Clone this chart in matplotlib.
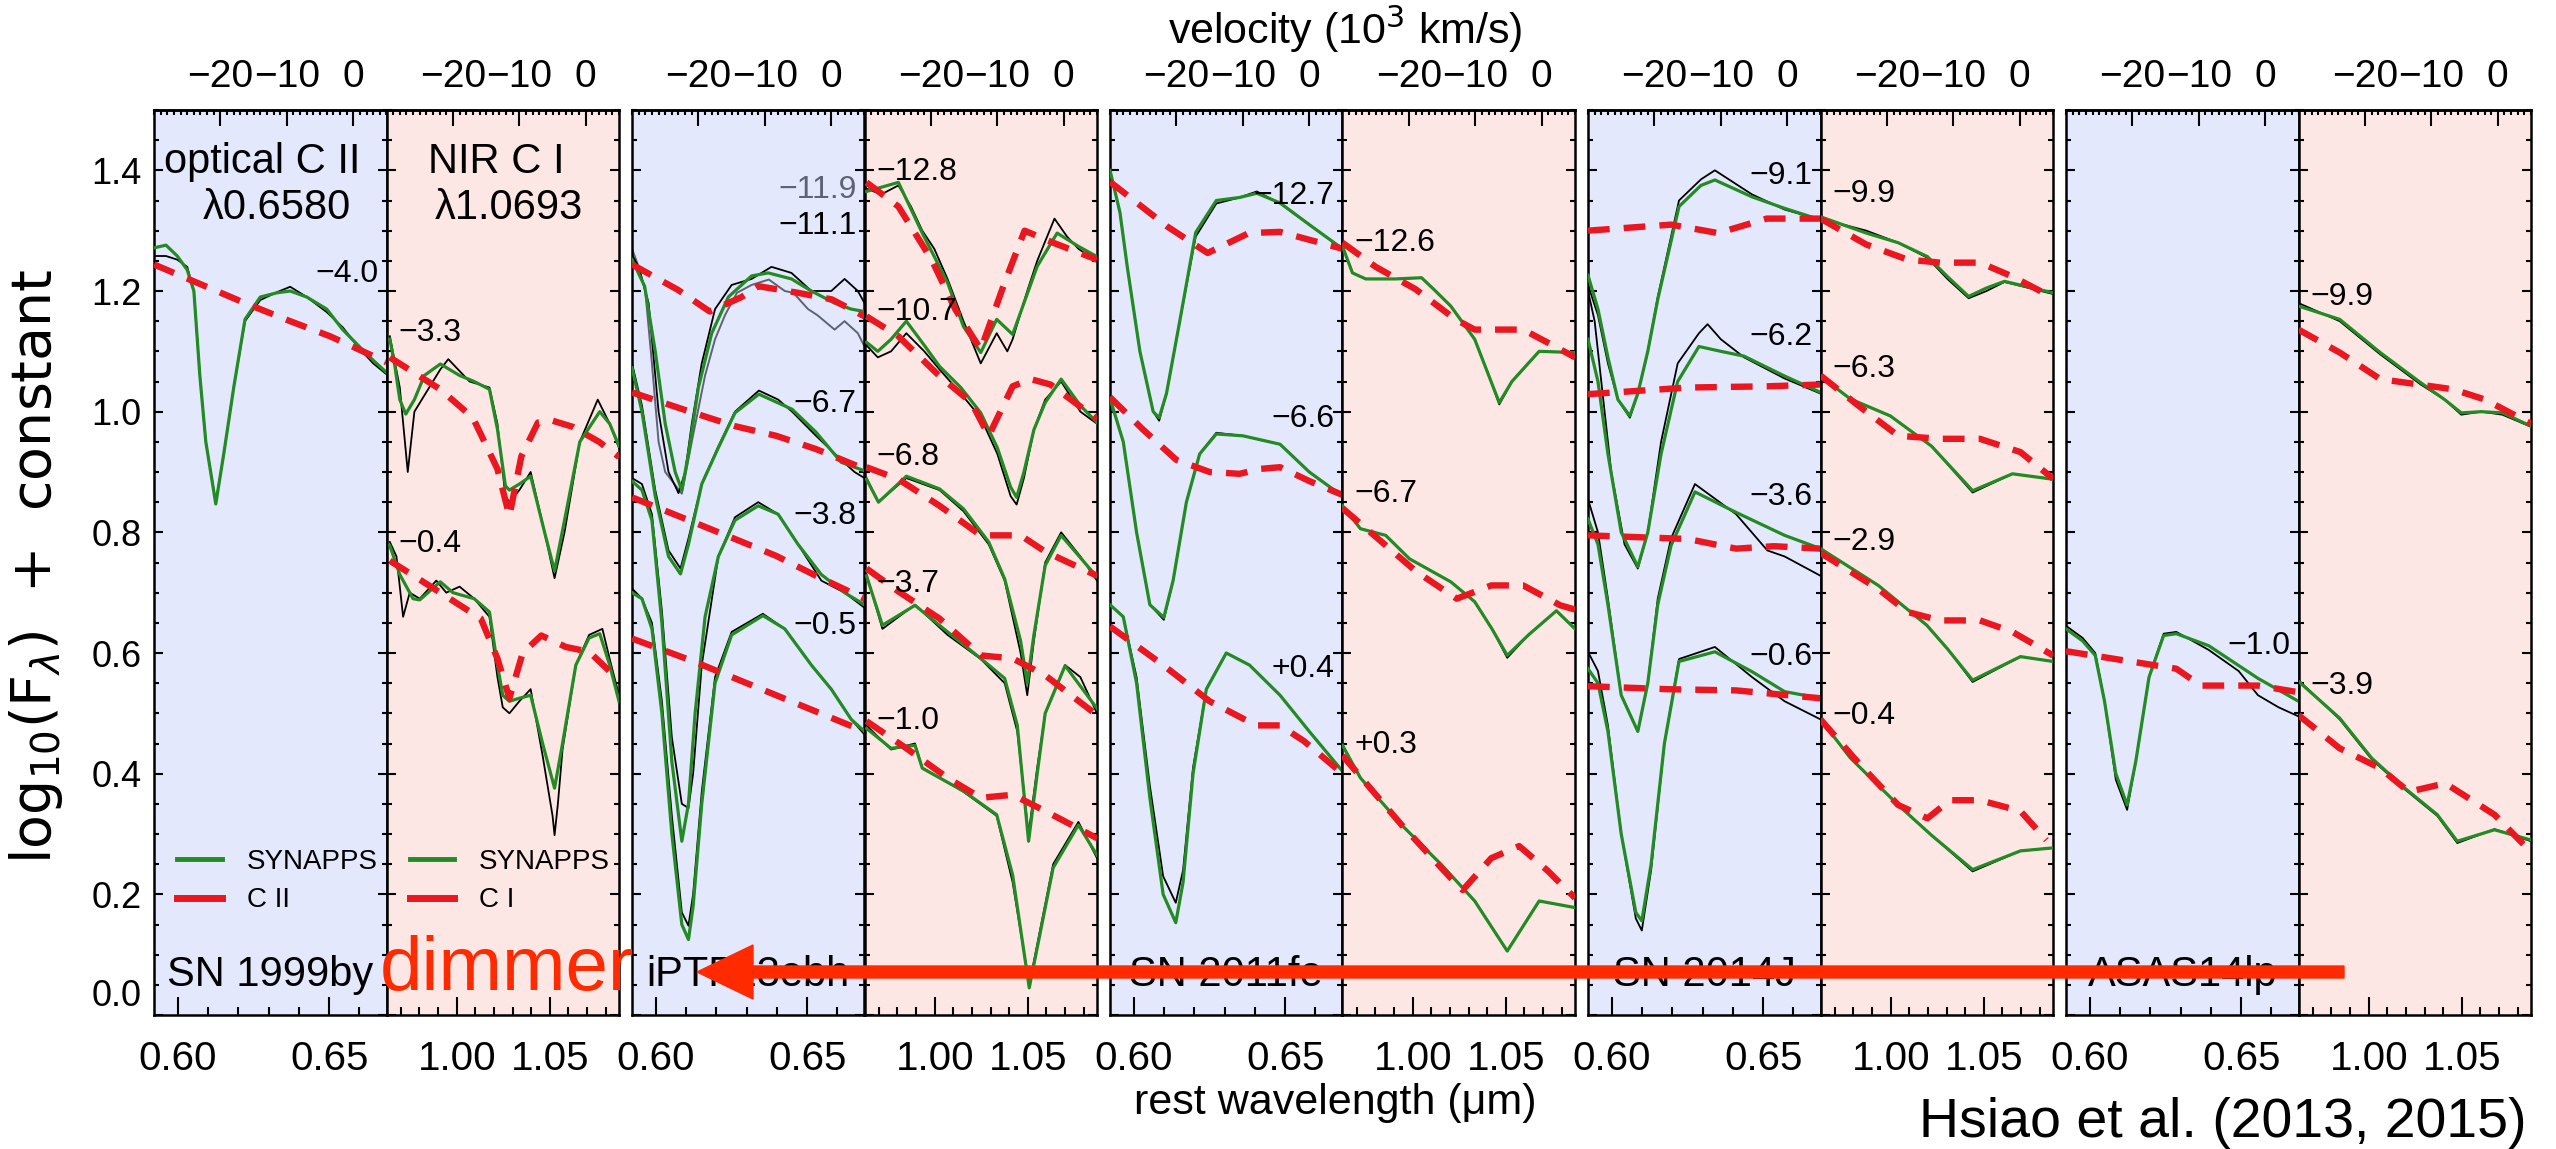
import numpy as np
import matplotlib
matplotlib.use("Agg")
import matplotlib.pyplot as plt
from matplotlib.ticker import FixedLocator, MultipleLocator, NullFormatter
from matplotlib.patches import FancyArrow
from matplotlib.lines import Line2D
from matplotlib.transforms import IdentityTransform

plt.rcParams['font.family'] = ['Liberation Sans', 'DejaVu Sans']

# ---------------------------------------------------------------------------
# Spectra: (velocity [10^3 km/s] relative to the line, log10 F + constant)
# obs = observed, fit = SYNAPPS fit, c = carbon-only model
# ---------------------------------------------------------------------------

# SN 1999by -- optical C II 0.6580
by_opt_m40_obs = [(-29.8, 1.258), (-28.2, 1.258), (-26.5, 1.252), (-25.0, 1.24), (-24.0, 1.20), (-23.1, 1.06),
                  (-22.2, 0.95), (-20.7, 0.85), (-19.5, 0.93), (-18.0, 1.04), (-16.3, 1.15), (-14.0, 1.185),
                  (-11.5, 1.198), (-9.5, 1.207), (-7.0, 1.19), (-4.0, 1.165), (-1.6, 1.14), (0.9, 1.105),
                  (3.0, 1.08), (5.0, 1.062)]
by_opt_m40_fit = [(-29.8, 1.272), (-28.2, 1.276), (-26.5, 1.258), (-25.0, 1.235), (-24.0, 1.20), (-23.1, 1.06),
                  (-22.2, 0.95), (-20.7, 0.847), (-19.5, 0.93), (-18.0, 1.04), (-16.3, 1.153), (-14.0, 1.19),
                  (-11.5, 1.197), (-9.5, 1.20), (-7.0, 1.19), (-4.0, 1.17), (-1.6, 1.136), (0.9, 1.108),
                  (3.0, 1.085), (5.0, 1.065)]
by_opt_m40_c = [(-30, 1.244), (-16.3, 1.18), (-9.5, 1.15), (-3.5, 1.125), (5, 1.082)]

# SN 1999by -- NIR C I 1.0693
by_nir_m33_obs = [(-29.5, 1.125), (-28.0, 1.04), (-26.8, 0.90), (-25.8, 1.0), (-21.9, 1.07), (-20.7, 1.087),
                  (-17.5, 1.05), (-14.5, 1.04), (-13.3, 0.98), (-12.1, 0.86), (-11.5, 0.85), (-10.0, 0.87),
                  (-8.3, 0.90), (-6.2, 0.80), (-4.7, 0.724), (-3.2, 0.80), (-0.9, 0.95), (1.8, 1.02),
                  (3.6, 0.98), (5.0, 0.94)]
by_nir_m33_fit = [(-29.5, 1.12), (-28.8, 1.08), (-28.0, 1.02), (-27.1, 0.996), (-25.8, 1.02), (-24.3, 1.06),
                  (-21.9, 1.079), (-19.0, 1.06), (-16.8, 1.05), (-14.5, 1.037), (-13.3, 0.971), (-12.1, 0.877),
                  (-11.5, 0.87), (-10.0, 0.88), (-8.3, 0.893), (-6.2, 0.80), (-4.7, 0.736), (-3.2, 0.82),
                  (-0.9, 0.95), (2.1, 1.0), (3.6, 0.98), (5.0, 0.943)]
by_nir_m33_c = [(-29.5, 1.09), (-21.9, 1.037), (-17.0, 0.99), (-13.3, 0.905), (-11.5, 0.827), (-9.7, 0.926),
                (-7.2, 0.982), (-5.0, 0.985), (-2.0, 0.975), (2.0, 0.95), (5.0, 0.925)]

by_nir_m04_obs = [(-29.5, 0.784), (-28.5, 0.76), (-27.5, 0.66), (-26.5, 0.70), (-25.0, 0.69), (-22.5, 0.72),
                  (-21.0, 0.70), (-19.0, 0.71), (-16.8, 0.69), (-14.5, 0.66), (-13.3, 0.56), (-12.5, 0.51),
                  (-11.5, 0.50), (-10.0, 0.52), (-8.3, 0.54), (-6.5, 0.43), (-5.0, 0.33), (-4.7, 0.298),
                  (-4.2, 0.35), (-3.5, 0.44), (-1.5, 0.58), (0.5, 0.63), (2.5, 0.64), (3.6, 0.59), (5.0, 0.53)]
by_nir_m04_fit = [(-29.5, 0.778), (-28.0, 0.73), (-26.0, 0.69), (-25.0, 0.688), (-21.9, 0.718), (-20.0, 0.70),
                  (-16.8, 0.69), (-14.5, 0.668), (-13.3, 0.58), (-12.5, 0.53), (-11.5, 0.52), (-10.0, 0.525),
                  (-8.3, 0.53), (-6.5, 0.45), (-4.7, 0.376), (-3.5, 0.45), (-1.5, 0.58), (0.5, 0.625),
                  (2.1, 0.632), (3.6, 0.58), (5.0, 0.52)]
by_nir_m04_c = [(-29.5, 0.753), (-21.9, 0.70), (-15.8, 0.657), (-13.3, 0.591), (-11.5, 0.525), (-9.5, 0.60),
                (-6.7, 0.629), (-3.0, 0.61), (0.5, 0.602), (5.0, 0.555)]

# iPTF13ebh -- optical
eb_opt_m119_obs = [(-30, 1.27), (-29, 1.24), (-28, 1.20), (-27, 1.08), (-26, 0.95), (-25, 0.90), (-22.5, 0.864),
                   (-21, 0.95), (-19, 1.06), (-17.5, 1.12), (-16, 1.16), (-14.2, 1.197), (-12, 1.21),
                   (-9.4, 1.219), (-7, 1.20), (-5.7, 1.197), (-3.5, 1.17), (-2.1, 1.16), (0.5, 1.136),
                   (2, 1.15), (3, 1.14), (4, 1.13), (5, 1.108)]
eb_opt_m111_obs = [(-30, 1.26), (-29, 1.24), (-27.5, 1.18), (-26, 1.0), (-24.5, 0.90), (-23, 0.865), (-22, 0.90),
                   (-21, 0.98), (-19.5, 1.08), (-17.5, 1.17), (-15, 1.21), (-12, 1.22), (-9, 1.24), (-6, 1.23),
                   (-3, 1.20), (0, 1.20), (2, 1.22), (4, 1.20), (5, 1.18)]
eb_opt_m111_fit = [(-30, 1.252), (-28.1, 1.208), (-26.5, 1.10), (-25, 0.98), (-23.5, 0.90), (-22.5, 0.87),
                   (-21.5, 0.93), (-20, 1.04), (-18, 1.13), (-15.5, 1.19), (-12, 1.225), (-9.5, 1.23),
                   (-6, 1.22), (-3, 1.20), (0.5, 1.18), (3, 1.17), (5, 1.166)]
eb_opt_m111_c = [(-30, 1.244), (-23.1, 1.202), (-18.3, 1.166), (-13.5, 1.19), (-11, 1.208), (-5, 1.197),
                 (0.1, 1.186), (5, 1.158)]

eb_opt_m67_obs = [(-30, 1.08), (-28.5, 1.01), (-26.5, 0.87), (-24.5, 0.77), (-22.7, 0.74), (-21.5, 0.79),
                  (-19.5, 0.88), (-17.1, 0.94), (-14.5, 1.0), (-10.9, 1.035), (-8, 1.02), (-5.9, 1.0),
                  (-2.3, 0.96), (1.5, 0.92), (3.5, 0.90), (5, 0.89)]
eb_opt_m67_fit = [(-30, 1.073), (-28.5, 1.0), (-26.5, 0.86), (-24.5, 0.76), (-22.7, 0.731), (-21.5, 0.78),
                  (-19.5, 0.88), (-17.1, 0.938), (-14.5, 0.998), (-10.9, 1.029), (-5.9, 1.004), (-2.3, 0.966),
                  (1.5, 0.916), (5, 0.902)]
eb_opt_m67_c = [(-30, 1.032), (-20.7, 0.998), (-14.5, 0.976), (-8.3, 0.96), (-2.3, 0.938), (5, 0.905)]

eb_opt_m38_obs = [(-30, 0.89), (-28.5, 0.88), (-27, 0.83), (-25.5, 0.67), (-24, 0.46), (-22.5, 0.35),
                  (-21.5, 0.343), (-20.8, 0.40), (-19.5, 0.58), (-17, 0.76), (-14.5, 0.825), (-11, 0.85),
                  (-8, 0.83), (-5, 0.78), (-1.5, 0.72), (2, 0.70), (5, 0.675)]
eb_opt_m38_fit = [(-30, 0.885), (-28.5, 0.87), (-27, 0.82), (-25.5, 0.65), (-24, 0.42), (-22.5, 0.288),
                  (-21.5, 0.35), (-20.5, 0.5), (-19, 0.66), (-17, 0.76), (-14.5, 0.82), (-11, 0.844),
                  (-8, 0.83), (-5, 0.78), (-1.5, 0.73), (2, 0.70), (5, 0.68)]
eb_opt_m38_c = [(-30, 0.858), (-21.9, 0.822), (-14.5, 0.789), (-8.3, 0.761), (-2.3, 0.728), (5, 0.69)]

eb_opt_m05_obs = [(-30, 0.707), (-28.5, 0.69), (-27, 0.65), (-25.5, 0.52), (-24, 0.33), (-22.5, 0.17),
                  (-21.5, 0.148), (-20.8, 0.20), (-19.5, 0.37), (-17.5, 0.56), (-15, 0.635), (-10.3, 0.665),
                  (-7, 0.64), (-3, 0.58), (0, 0.54), (3, 0.49), (5, 0.465)]
eb_opt_m05_fit = [(-30, 0.70), (-28.5, 0.69), (-27, 0.64), (-25.5, 0.50), (-24, 0.30), (-22.5, 0.15),
                  (-21.5, 0.125), (-20.8, 0.18), (-19.5, 0.35), (-17.5, 0.55), (-15, 0.63), (-10.3, 0.662),
                  (-7, 0.64), (-3, 0.58), (0, 0.54), (3, 0.49), (5, 0.47)]
eb_opt_m05_c = [(-30, 0.624), (-20.7, 0.586), (-14.5, 0.558), (-8.3, 0.53), (-2.3, 0.503), (5, 0.47)]

# iPTF13ebh -- NIR
eb_nir_m128_obs = [(-29.7, 1.37), (-27.5, 1.36), (-24.9, 1.375), (-23, 1.34), (-21.3, 1.30), (-19.5, 1.27),
                   (-17.5, 1.22), (-15.1, 1.15), (-12.5, 1.08), (-10.1, 1.13), (-8.5, 1.10), (-7.7, 1.12),
                   (-5.5, 1.20), (-4.0, 1.25), (-1.4, 1.32), (0.5, 1.29), (2.2, 1.27), (3.5, 1.26), (5, 1.25)]
eb_nir_m128_fit = [(-29.7, 1.365), (-24.9, 1.38), (-21.3, 1.296), (-17.5, 1.214), (-15.1, 1.141),
                   (-12.5, 1.098), (-10.1, 1.153), (-7.7, 1.128), (-4.0, 1.241), (-1.0, 1.296), (2.2, 1.274),
                   (5, 1.257)]
eb_nir_m128_c = [(-29.7, 1.38), (-24.9, 1.34), (-19.9, 1.252), (-16.3, 1.169), (-12.5, 1.103), (-8.9, 1.214),
                 (-5.9, 1.30), (-1.6, 1.28), (5, 1.252)]

eb_nir_m107_obs = [(-29.7, 1.11), (-28, 1.09), (-26, 1.10), (-23.7, 1.13), (-21, 1.10), (-18.7, 1.07),
                   (-15.5, 1.03), (-12.5, 0.99), (-10, 0.93), (-8, 0.86), (-7.1, 0.846), (-6, 0.89),
                   (-4.5, 0.97), (-2.8, 1.02), (-0.4, 1.05), (2.5, 1.0), (5, 0.98)]
eb_nir_m107_fit = [(-29.7, 1.115), (-28, 1.10), (-26, 1.12), (-23.7, 1.15), (-21, 1.11), (-18.7, 1.075),
                   (-15.5, 1.04), (-12.5, 0.998), (-10, 0.94), (-8, 0.875), (-7.1, 0.858), (-6, 0.90),
                   (-4.5, 0.97), (-2.8, 1.015), (-0.4, 1.054), (2.5, 1.01), (5, 0.982)]
eb_nir_m107_c = [(-29.7, 1.158), (-24.9, 1.125), (-18.7, 1.059), (-13.9, 1.015), (-11.3, 0.96), (-7.7, 1.042),
                 (-5, 1.054), (-2, 1.045), (5, 0.988)]

eb_nir_m68_obs = [(-29.7, 0.89), (-27.9, 0.85), (-23.7, 0.89), (-18.7, 0.87), (-15.1, 0.835), (-11.3, 0.78),
                  (-8.9, 0.72), (-6.5, 0.60), (-5.5, 0.53), (-4.5, 0.62), (-2.8, 0.75), (-0.4, 0.80),
                  (2.5, 0.76), (5, 0.72)]
eb_nir_m68_fit = [(-29.7, 0.888), (-27.9, 0.85), (-23.7, 0.893), (-18.7, 0.872), (-15.1, 0.839),
                  (-11.3, 0.784), (-8.9, 0.723), (-6.5, 0.62), (-5.5, 0.55), (-4.5, 0.63), (-2.8, 0.745),
                  (-0.4, 0.795), (5, 0.726)]
eb_nir_m68_c = [(-29.7, 0.908), (-24.9, 0.888), (-18.7, 0.844), (-12.5, 0.795), (-9, 0.795), (-6.5, 0.795),
                (-2.8, 0.768), (5, 0.728)]

eb_nir_m37_obs = [(-29.7, 0.73), (-27.3, 0.64), (-22.4, 0.68), (-17.5, 0.63), (-12.5, 0.59), (-8.9, 0.55),
                  (-7, 0.47), (-5.3, 0.30), (-4, 0.41), (-2.8, 0.50), (0.2, 0.58), (2.5, 0.56), (5, 0.50)]
eb_nir_m37_fit = [(-29.7, 0.728), (-27.3, 0.646), (-22.4, 0.679), (-17.5, 0.635), (-12.5, 0.591),
                  (-8.9, 0.558), (-7, 0.48), (-5.3, 0.288), (-4, 0.40), (-2.8, 0.50), (0.2, 0.579), (5, 0.508)]
eb_nir_m37_c = [(-29.7, 0.74), (-24.9, 0.702), (-18.7, 0.657), (-12.5, 0.596), (-7.7, 0.591), (-2.8, 0.563),
                (5, 0.497)]

eb_nir_m10_obs = [(-29.7, 0.48), (-26, 0.44), (-22.4, 0.45), (-21.3, 0.41), (-15.1, 0.37), (-10.1, 0.33),
                  (-7.7, 0.22), (-5.2, 0.05), (-1.6, 0.25), (2.2, 0.32), (5, 0.26)]
eb_nir_m10_fit = [(-29.7, 0.475), (-26, 0.442), (-22.4, 0.447), (-21.3, 0.409), (-15.1, 0.371),
                  (-10.1, 0.332), (-7.7, 0.232), (-5.2, 0.045), (-1.6, 0.244), (2.2, 0.315), (5, 0.265)]
eb_nir_m10_c = [(-29.7, 0.487), (-23.7, 0.442), (-17.5, 0.393), (-12.5, 0.36), (-7.7, 0.365), (-2.8, 0.338),
                (5, 0.293)]

# SN 2011fe -- optical
fe_opt_m127_obs = [(-30, 1.40), (-28.5, 1.33), (-27.4, 1.24), (-25.5, 1.10), (-23.5, 1.00), (-22.6, 0.985),
                   (-21.5, 1.03), (-19.5, 1.15), (-17.1, 1.29), (-14, 1.345), (-10.5, 1.355), (-7.9, 1.365),
                   (-4.4, 1.345), (0, 1.31), (5, 1.27)]
fe_opt_m127_fit = [(-30, 1.40), (-28.5, 1.33), (-27.4, 1.24), (-25.5, 1.10), (-23.5, 1.00), (-22.6, 0.99),
                   (-21.5, 1.03), (-19.5, 1.15), (-17.1, 1.297), (-14, 1.35), (-10.5, 1.355), (-7.9, 1.362),
                   (-4.4, 1.346), (0, 1.31), (5, 1.27)]
fe_opt_m127_c = [(-30, 1.381), (-21.4, 1.307), (-15.3, 1.263), (-9.1, 1.296), (-4.4, 1.298), (5, 1.27)]

fe_opt_m66_obs = [(-30, 1.022), (-28, 0.95), (-26, 0.80), (-24, 0.68), (-21.9, 0.655), (-20.5, 0.72),
                  (-18.5, 0.85), (-16.5, 0.93), (-14, 0.965), (-10, 0.96), (-4.4, 0.946), (0, 0.90), (5, 0.86)]
fe_opt_m66_fit = [(-30, 1.022), (-28, 0.95), (-26, 0.80), (-24, 0.68), (-21.9, 0.659), (-20.5, 0.72),
                  (-18.5, 0.85), (-16.5, 0.93), (-14, 0.963), (-10, 0.96), (-4.4, 0.946), (0, 0.90), (5, 0.86)]
fe_opt_m66_c = [(-30, 1.024), (-25, 0.97), (-20, 0.92), (-15, 0.90), (-10.5, 0.897), (-7.5, 0.905),
                (-4.4, 0.908), (0, 0.885), (5, 0.862)]

fe_opt_p04_obs = [(-30, 0.68), (-28, 0.66), (-26, 0.56), (-24, 0.38), (-22, 0.23), (-20.1, 0.186), (-19, 0.24),
                  (-17.5, 0.41), (-15.5, 0.54), (-12.5, 0.60), (-9, 0.58), (-4.4, 0.53), (0, 0.47), (5, 0.404)]
fe_opt_p04_fit = [(-30, 0.68), (-28, 0.66), (-26, 0.55), (-24, 0.36), (-22, 0.20), (-20.1, 0.153), (-19, 0.22),
                  (-17.5, 0.40), (-15.5, 0.54), (-12.5, 0.60), (-9, 0.58), (-4.4, 0.53), (0, 0.47), (5, 0.404)]
fe_opt_p04_c = [(-30, 0.644), (-22, 0.58), (-15, 0.52), (-8, 0.48), (-4.4, 0.48), (-0.8, 0.454), (5, 0.40)]

# SN 2011fe -- NIR
fe_nir_m126_obs = [(-30, 1.274), (-28.5, 1.23), (-26.5, 1.22), (-22, 1.22), (-18.1, 1.222), (-16, 1.20),
                   (-13.7, 1.175), (-10.1, 1.12), (-7.6, 1.049), (-6.4, 1.012), (-4.5, 1.05), (-0.4, 1.10),
                   (5, 1.098)]
fe_nir_m126_fit = [(-30, 1.274), (-28.5, 1.23), (-26.5, 1.22), (-22, 1.22), (-18.1, 1.222), (-16, 1.20),
                   (-13.7, 1.175), (-10.1, 1.12), (-7.6, 1.049), (-6.4, 1.015), (-4.5, 1.05), (-0.4, 1.10),
                   (5, 1.098)]
fe_nir_m126_c = [(-30, 1.28), (-25, 1.24), (-19, 1.203), (-13, 1.153), (-10.1, 1.136), (-2.8, 1.136),
                 (2, 1.108), (5, 1.09)]

fe_nir_m67_obs = [(-30, 0.844), (-27.3, 0.806), (-23.5, 0.795), (-19.9, 0.756), (-13.7, 0.718), (-10.1, 0.685),
                  (-7.5, 0.64), (-5.2, 0.592), (-2, 0.63), (2.2, 0.67), (5, 0.64)]
fe_nir_m67_fit = [(-30, 0.844), (-27.3, 0.806), (-23.5, 0.795), (-19.9, 0.756), (-13.7, 0.718), (-10.1, 0.685),
                  (-7.5, 0.64), (-5.2, 0.596), (-2, 0.63), (2.2, 0.67), (5, 0.64)]
fe_nir_m67_c = [(-30, 0.84), (-18.9, 0.735), (-12.8, 0.69), (-7.6, 0.712), (-2.8, 0.712), (2.8, 0.679),
                (5, 0.672)]

fe_nir_p03_obs = [(-30, 0.447), (-27.3, 0.393), (-21.1, 0.315), (-15.1, 0.249), (-10.1, 0.189), (-5.2, 0.106),
                  (-0.4, 0.189), (5, 0.178)]
fe_nir_p03_fit = [(-30, 0.447), (-27.3, 0.393), (-21.1, 0.315), (-15.1, 0.249), (-10.1, 0.189), (-5.2, 0.106),
                  (-0.4, 0.189), (5, 0.178)]
fe_nir_p03_c = [(-30, 0.43), (-21.1, 0.315), (-13.7, 0.227), (-11.9, 0.207), (-7.6, 0.26), (-3.4, 0.28),
                (0.9, 0.239), (5, 0.194)]

# SN 2014J -- optical
jj_opt_m91_obs = [(-30, 1.21), (-28.5, 1.16), (-27, 1.08), (-25.5, 1.02), (-23.7, 0.99), (-22.5, 1.03),
                  (-21, 1.10), (-19.5, 1.19), (-16.3, 1.35), (-13, 1.385), (-10.9, 1.40), (-5.3, 1.36),
                  (-0.4, 1.335), (5, 1.318)]
jj_opt_m91_fit = [(-30, 1.226), (-28.5, 1.17), (-27, 1.09), (-25.5, 1.02), (-23.7, 0.993), (-22.5, 1.03),
                  (-21, 1.10), (-19.5, 1.186), (-16.3, 1.34), (-13, 1.375), (-10.9, 1.384), (-5.3, 1.356),
                  (-0.4, 1.337), (5, 1.318)]
jj_opt_m91_c = [(-30, 1.30), (-17.5, 1.31), (-10.4, 1.296), (-3.1, 1.32), (5, 1.32)]

jj_opt_m62_obs = [(-30, 1.20), (-29, 1.15), (-28, 1.05), (-26.5, 0.90), (-24.5, 0.78), (-22.5, 0.74),
                  (-21, 0.80), (-19, 0.95), (-16.5, 1.08), (-13.3, 1.13), (-12, 1.145), (-10, 1.12),
                  (-6.5, 1.09), (-0.4, 1.055), (5, 1.03)]
jj_opt_m62_fit = [(-30, 1.12), (-28.5, 1.05), (-27, 0.93), (-25, 0.80), (-22.5, 0.743), (-21, 0.80),
                  (-19, 0.93), (-16.5, 1.05), (-13.3, 1.108), (-10, 1.10), (-6.5, 1.092), (-0.4, 1.059),
                  (5, 1.032)]
jj_opt_m62_c = [(-30, 1.029), (-15, 1.04), (-3, 1.042), (5, 1.045)]

jj_opt_m36_obs = [(-30, 0.855), (-28.5, 0.80), (-27, 0.69), (-25, 0.53), (-22.5, 0.47), (-21, 0.55),
                  (-19.5, 0.69), (-17.5, 0.79), (-13.9, 0.88), (-7.7, 0.83), (-3, 0.77), (-0.4, 0.76),
                  (5, 0.728)]
jj_opt_m36_fit = [(-30, 0.822), (-28.5, 0.78), (-27, 0.68), (-25, 0.53), (-22.5, 0.47), (-21, 0.55),
                  (-19.5, 0.68), (-17.5, 0.778), (-13.9, 0.867), (-7.7, 0.833), (-0.4, 0.795), (5, 0.773)]
jj_opt_m36_c = [(-30, 0.795), (-15, 0.789), (-7.7, 0.773), (-2, 0.777), (5, 0.773)]

jj_opt_m06_obs = [(-30, 0.602), (-28.5, 0.57), (-27, 0.48), (-25, 0.30), (-22.8, 0.16), (-21.9, 0.14),
                  (-20.5, 0.24), (-18.5, 0.45), (-16.3, 0.59), (-10.9, 0.61), (-5.3, 0.56), (-0.4, 0.52),
                  (5, 0.49)]
jj_opt_m06_fit = [(-30, 0.574), (-28.5, 0.55), (-27, 0.47), (-25, 0.30), (-22.8, 0.17), (-21.9, 0.156),
                  (-20.5, 0.25), (-18.5, 0.45), (-16.3, 0.586), (-10.9, 0.602), (-5.3, 0.569), (-0.4, 0.536),
                  (5, 0.525)]
jj_opt_m06_c = [(-30, 0.545), (-18, 0.54), (-7.7, 0.538), (5, 0.525)]

# SN 2014J -- NIR
jj_nir_m99_obs = [(-30, 1.32), (-23.1, 1.30), (-18.3, 1.28), (-13.9, 1.255), (-10.9, 1.22), (-7.7, 1.188),
                  (-5, 1.20), (-2.3, 1.215), (5, 1.195)]
jj_nir_m99_fit = [(-30, 1.323), (-23.1, 1.296), (-18.3, 1.28), (-13.9, 1.257), (-10.9, 1.224), (-7.7, 1.191),
                  (-5, 1.205), (-2.3, 1.216), (5, 1.197)]
jj_nir_m99_c = [(-30, 1.32), (-23.1, 1.277), (-16.9, 1.252), (-12, 1.247), (-6, 1.247), (-1.1, 1.224),
                (5, 1.189)]

jj_nir_m63_obs = [(-30, 1.059), (-25.5, 1.021), (-19.5, 0.993), (-13.3, 0.943), (-7.1, 0.866), (-1.1, 0.897),
                  (5, 0.888)]
jj_nir_m63_fit = [(-30, 1.059), (-25.5, 1.021), (-19.5, 0.993), (-13.3, 0.943), (-7.1, 0.869), (-1.1, 0.897),
                  (5, 0.888)]
jj_nir_m63_c = [(-30, 1.06), (-24.3, 1.01), (-18.3, 0.96), (-12, 0.955), (-6, 0.955), (0.1, 0.933),
                (5, 0.889)]

jj_nir_m29_obs = [(-30, 0.773), (-21.3, 0.712), (-14.0, 0.646), (-10.9, 0.607), (-7.1, 0.552), (0.1, 0.594),
                  (5, 0.586)]
jj_nir_m29_fit = [(-30, 0.773), (-21.3, 0.712), (-14.0, 0.646), (-10.9, 0.607), (-7.1, 0.555), (0.1, 0.594),
                  (5, 0.586)]
jj_nir_m29_c = [(-30, 0.766), (-21.3, 0.706), (-16.9, 0.668), (-12, 0.654), (-6, 0.654), (-1.1, 0.635),
                (5, 0.596)]

jj_nir_m04_obs = [(-30, 0.49), (-25.5, 0.426), (-18.3, 0.348), (-13.3, 0.298), (-7.1, 0.238), (0.1, 0.272),
                  (5, 0.277)]
jj_nir_m04_fit = [(-30, 0.49), (-25.5, 0.426), (-18.3, 0.348), (-13.3, 0.298), (-7.1, 0.241), (0.1, 0.272),
                  (5, 0.277)]
jj_nir_m04_c = [(-30, 0.49), (-24.3, 0.418), (-18.3, 0.348), (-13.9, 0.326), (-10.5, 0.356), (-6, 0.356),
                (0.1, 0.338), (4, 0.29)]

# ASASSN-14lp -- optical
lp_opt_m10_obs = [(-30, 0.645), (-27.5, 0.625), (-25.6, 0.60), (-24.2, 0.52), (-22.5, 0.39), (-20.8, 0.34),
                  (-19.5, 0.42), (-17.5, 0.56), (-15.3, 0.632), (-13.4, 0.635), (-8.5, 0.605), (-4, 0.57),
                  (-1.1, 0.53), (2, 0.51), (5, 0.495)]
lp_opt_m10_fit = [(-30, 0.64), (-27.5, 0.62), (-25.6, 0.596), (-24.2, 0.52), (-22.5, 0.40), (-20.8, 0.348),
                  (-19.5, 0.42), (-17.5, 0.56), (-15.3, 0.629), (-13.4, 0.632), (-8.5, 0.612), (-1.1, 0.558),
                  (5, 0.52)]
lp_opt_m10_c = [(-30, 0.603), (-13.4, 0.574), (-9.7, 0.546), (-1.1, 0.546), (5, 0.535)]

# ASASSN-14lp -- NIR
lp_nir_m99_obs = [(-30, 1.18), (-23.8, 1.15), (-17.7, 1.095), (-11.6, 1.045), (-8, 1.02), (-5.5, 0.995),
                  (-2.5, 1.0), (0.7, 0.995), (5, 0.975)]
lp_nir_m99_fit = [(-30, 1.175), (-23.8, 1.153), (-17.7, 1.098), (-11.6, 1.048), (-8, 1.02), (-5.5, 0.998),
                  (-2.5, 1.0), (0.7, 0.998), (5, 0.976)]
lp_nir_m99_c = [(-30, 1.136), (-23.8, 1.098), (-17.7, 1.054), (-6.7, 1.037), (-1.9, 1.02), (5, 0.98)]

lp_nir_m39_obs = [(-30, 0.555), (-23.8, 0.49), (-19.0, 0.424), (-14.0, 0.374), (-9.1, 0.33), (-6.1, 0.285),
                  (-0.5, 0.308), (5, 0.288)]
lp_nir_m39_fit = [(-30, 0.553), (-23.8, 0.492), (-19.0, 0.426), (-14.0, 0.376), (-9.1, 0.332), (-6.1, 0.288),
                  (-0.5, 0.307), (5, 0.29)]
lp_nir_m39_c = [(-30, 0.497), (-23.8, 0.442), (-17.7, 0.409), (-13.4, 0.37), (-7.9, 0.384), (-0.5, 0.332),
                (4.4, 0.277)]

# Objects, windows and phase labels
sn_names = ["SN 1999by", "iPTF13ebh", "SN 2011fe", "SN 2014J", "ASAS14lp"]
line_rest = {"opt": 0.6580, "nir": 1.0693}
window_titles = {"opt": ("optical C II", "λ0.6580"), "nir": ("NIR C I", "λ1.0693")}
legend_labels = {"opt": ("SYNAPPS", "C II"), "nir": ("SYNAPPS", "C I")}
velocity_window = (-30, 5)
velocity_ticks = [-20, -10, 0]
wave_ticks = {"opt": [0.60, 0.65], "nir": [1.00, 1.05]}
wave_tick_labels = {"opt": ["0.60", "0.65"], "nir": ["1.00", "1.05"]}
flux_ticks = [0.0, 0.2, 0.4, 0.6, 0.8, 1.0, 1.2, 1.4]
credit = "Hsiao et al. (2013, 2015)"

# (object index, window) -> list of (obs, fit, carbon model, phase label, label height)
spectra = {
    (0, "opt"): [(by_opt_m40_obs, by_opt_m40_fit, by_opt_m40_c, "−4.0", 1.229)],
    (0, "nir"): [(by_nir_m33_obs, by_nir_m33_fit, by_nir_m33_c, "−3.3", 1.13),
                 (by_nir_m04_obs, by_nir_m04_fit, by_nir_m04_c, "−0.4", 0.78)],
    (1, "opt"): [(eb_opt_m111_obs, eb_opt_m111_fit, eb_opt_m111_c, "−11.1", 1.307),
                 (eb_opt_m67_obs, eb_opt_m67_fit, eb_opt_m67_c, "−6.7", 1.012),
                 (eb_opt_m38_obs, eb_opt_m38_fit, eb_opt_m38_c, "−3.8", 0.827),
                 (eb_opt_m05_obs, eb_opt_m05_fit, eb_opt_m05_c, "−0.5", 0.645)],
    (1, "nir"): [(eb_nir_m128_obs, eb_nir_m128_fit, eb_nir_m128_c, "−12.8", 1.398),
                 (eb_nir_m107_obs, eb_nir_m107_fit, eb_nir_m107_c, "−10.7", 1.166),
                 (eb_nir_m68_obs, eb_nir_m68_fit, eb_nir_m68_c, "−6.8", 0.925),
                 (eb_nir_m37_obs, eb_nir_m37_fit, eb_nir_m37_c, "−3.7", 0.715),
                 (eb_nir_m10_obs, eb_nir_m10_fit, eb_nir_m10_c, "−1.0", 0.487)],
    (2, "opt"): [(fe_opt_m127_obs, fe_opt_m127_fit, fe_opt_m127_c, "−12.7", 1.358),
                 (fe_opt_m66_obs, fe_opt_m66_fit, fe_opt_m66_c, "−6.6", 0.988),
                 (fe_opt_p04_obs, fe_opt_p04_fit, fe_opt_p04_c, "+0.4", 0.574)],
    (2, "nir"): [(fe_nir_m126_obs, fe_nir_m126_fit, fe_nir_m126_c, "−12.6", 1.28),
                 (fe_nir_m67_obs, fe_nir_m67_fit, fe_nir_m67_c, "−6.7", 0.864),
                 (fe_nir_p03_obs, fe_nir_p03_fit, fe_nir_p03_c, "+0.3", 0.447)],
    (3, "opt"): [(jj_opt_m91_obs, jj_opt_m91_fit, jj_opt_m91_c, "−9.1", 1.39),
                 (jj_opt_m62_obs, jj_opt_m62_fit, jj_opt_m62_c, "−6.2", 1.123),
                 (jj_opt_m36_obs, jj_opt_m36_fit, jj_opt_m36_c, "−3.6", 0.858),
                 (jj_opt_m06_obs, jj_opt_m06_fit, jj_opt_m06_c, "−0.6", 0.594)],
    (3, "nir"): [(jj_nir_m99_obs, jj_nir_m99_fit, jj_nir_m99_c, "−9.9", 1.36),
                 (jj_nir_m63_obs, jj_nir_m63_fit, jj_nir_m63_c, "−6.3", 1.07),
                 (jj_nir_m29_obs, jj_nir_m29_fit, jj_nir_m29_c, "−2.9", 0.784),
                 (jj_nir_m04_obs, jj_nir_m04_fit, jj_nir_m04_c, "−0.4", 0.495)],
    (4, "opt"): [(lp_opt_m10_obs, lp_opt_m10_fit, lp_opt_m10_c, "−1.0", 0.612)],
    (4, "nir"): [(lp_nir_m99_obs, lp_nir_m99_fit, lp_nir_m99_c, "−9.9", 1.19),
                 (lp_nir_m39_obs, lp_nir_m39_fit, lp_nir_m39_c, "−3.9", 0.545)],
}
# earliest iPTF13ebh optical spectrum, shown without a fit
extra_obs = {(1, "opt"): (eb_opt_m119_obs, "−11.9", 1.368)}

# ---------------------------------------------------------------------------
C_KMS = 299792.458
BG = {"opt": "#e3e8fc", "nir": "#fde7e4"}
GREEN, RED, GRAY, ARROW_RED = "#238b23", "#ea1620", "#5d6373", "#ff2a00"

FIG_W, FIG_H = 2556, 1149
LEFT0, PAIR_STEP, PANEL_W = 154, 478, 232.5
Y_TOP, Y_BOT = 110, 1015

fig = plt.figure(figsize=(FIG_W / 100, FIG_H / 100), dpi=100)


def vel_to_wave(v, lam0):
    return lam0 * (1.0 + np.asarray(v, dtype=float) * 1e3 / C_KMS)


def wave_to_vel(w, lam0):
    return (np.asarray(w, dtype=float) / lam0 - 1.0) * C_KMS / 1e3


def draw(ax, pts, lam0, **kw):
    v, f = zip(*pts)
    ax.plot(vel_to_wave(v, lam0), f, **kw)


for i, name in enumerate(sn_names):
    for k, band in enumerate(("opt", "nir")):
        lam0 = line_rest[band]
        x0 = LEFT0 + i * PAIR_STEP + k * PANEL_W
        ax = fig.add_axes([x0 / FIG_W, 1 - Y_BOT / FIG_H, PANEL_W / FIG_W, (Y_BOT - Y_TOP) / FIG_H])
        ax.set_facecolor(BG[band])
        ax.set_xlim(*vel_to_wave(velocity_window, lam0))
        ax.set_ylim(0, 1.5)

        # curves
        if (i, band) in extra_obs:
            pts, lab, ty = extra_obs[(i, band)]
            draw(ax, pts, lam0, color=GRAY, lw=1.4, zorder=2)
            ax.text(0.965, ty, lab, transform=ax.get_yaxis_transform(), ha="right", va="center",
                    fontsize=23, color=GRAY, zorder=6)
        for obs, fit, cmod, lab, ty in spectra[(i, band)]:
            draw(ax, obs, lam0, color="black", lw=1.3, zorder=3)
            draw(ax, fit, lam0, color=GREEN, lw=2.3, zorder=4)
            draw(ax, cmod, lam0, color=RED, lw=4.6, dashes=(3.4, 2.2), zorder=5)
            if band == "opt":
                ax.text(0.965, ty, lab, transform=ax.get_yaxis_transform(), ha="right", va="center",
                        fontsize=23, zorder=6)
            else:
                ax.text(0.05, ty, lab, transform=ax.get_yaxis_transform(), ha="left", va="center",
                        fontsize=23, zorder=6)

        # wavelength axis
        ax.xaxis.set_major_locator(FixedLocator(wave_ticks[band]))
        ax.set_xticklabels(wave_tick_labels[band])
        ax.xaxis.set_minor_locator(MultipleLocator(0.01))
        ax.tick_params(axis="x", which="both", direction="in", top=False, bottom=True, labelsize=29, pad=18,
                       width=1.5)
        ax.tick_params(axis="x", which="major", length=13)
        ax.tick_params(axis="x", which="minor", length=5.5)

        # flux axis
        ax.yaxis.set_major_locator(FixedLocator(flux_ticks))
        ax.yaxis.set_minor_locator(MultipleLocator(0.05))
        ax.tick_params(axis="y", which="both", direction="in", left=True, right=True, width=1.5,
                       labelsize=26, pad=9)
        ax.tick_params(axis="y", which="major", length=6.5)
        ax.tick_params(axis="y", which="minor", length=3.5)
        if i == 0 and k == 0:
            # the bottom label sits just above the frame corner
            ax.set_yticklabels([""] + [f"{t:.1f}" for t in flux_ticks[1:]])
            ax.annotate(f"{flux_ticks[0]:.1f}", xy=(0, flux_ticks[0]), xycoords=ax.get_yaxis_transform(),
                        xytext=(-9, 13.5), textcoords="offset points", ha="right", va="center", fontsize=26)
        else:
            ax.yaxis.set_major_formatter(NullFormatter())

        # velocity axis
        sec = ax.secondary_xaxis("top", functions=(lambda w, l=lam0: wave_to_vel(w, l),
                                                   lambda v, l=lam0: vel_to_wave(v, l)))
        sec.xaxis.set_major_locator(FixedLocator(velocity_ticks))
        sec.xaxis.set_minor_locator(MultipleLocator(1))
        sec.tick_params(which="both", direction="in", labelsize=28, pad=11, width=1.5)
        sec.tick_params(which="major", length=11.5)
        sec.tick_params(which="minor", length=3.6)
        for sp in sec.spines.values():
            sp.set_linewidth(1.8)

        for sp in ax.spines.values():
            sp.set_linewidth(1.8)

        if band == "opt":
            ax.text(0.5, 0.044, name, transform=ax.transAxes, ha="center", va="center", fontsize=30, zorder=6)

        if i == 0:
            t1, t2 = window_titles[band]
            xc1, xc2 = (0.465, 0.53) if band == "opt" else (0.47, 0.525)
            ax.text(xc1, 1.414, t1, transform=ax.get_yaxis_transform(), ha="center", va="center",
                    fontsize=30, zorder=6)
            ax.text(xc2, 1.338, t2, transform=ax.get_yaxis_transform(), ha="center", va="center",
                    fontsize=30, zorder=6)
            l1, l2 = legend_labels[band]
            handles = [Line2D([], [], color=GREEN, lw=3.5),
                       Line2D([], [], color=RED, lw=5)]
            ax.legend(handles, [l1, l2], loc="center left", bbox_to_anchor=(0.04, 0.148), frameon=False,
                      fontsize=20, handlelength=1.6, handletextpad=0.9, labelspacing=0.45, borderpad=0)

# axis titles and credit
fig.text(1345 / FIG_W, 1 - 29 / FIG_H, "velocity (10$^3$ km/s)", ha="center", va="center", fontsize=31)
fig.text(1335 / FIG_W, 1 - 1103 / FIG_H, "rest wavelength (μm)", ha="center", va="center", fontsize=31)
fig.text(36 / FIG_W, 1 - 566 / FIG_H, "log$_{10}$(F$_\\lambda$)  +  constant", rotation=90, ha="center",
         va="center", fontsize=40, family="DejaVu Sans")
fig.text(2527 / FIG_W, 1 - 1123 / FIG_H, credit, ha="right", va="center", fontsize=40)

# luminosity arrow
arrow = FancyArrow(2344, FIG_H - 972, 697 - 2344, 0, width=12, head_width=54, head_length=56,
                   length_includes_head=True, color=ARROW_RED, transform=IdentityTransform(), zorder=20)
fig.add_artist(arrow)
fig.text(380 / FIG_W, 1 - 990 / FIG_H, "dimmer", ha="left", va="baseline", fontsize=55, color=ARROW_RED,
         zorder=21)

fig.savefig("out.png", dpi=100)
